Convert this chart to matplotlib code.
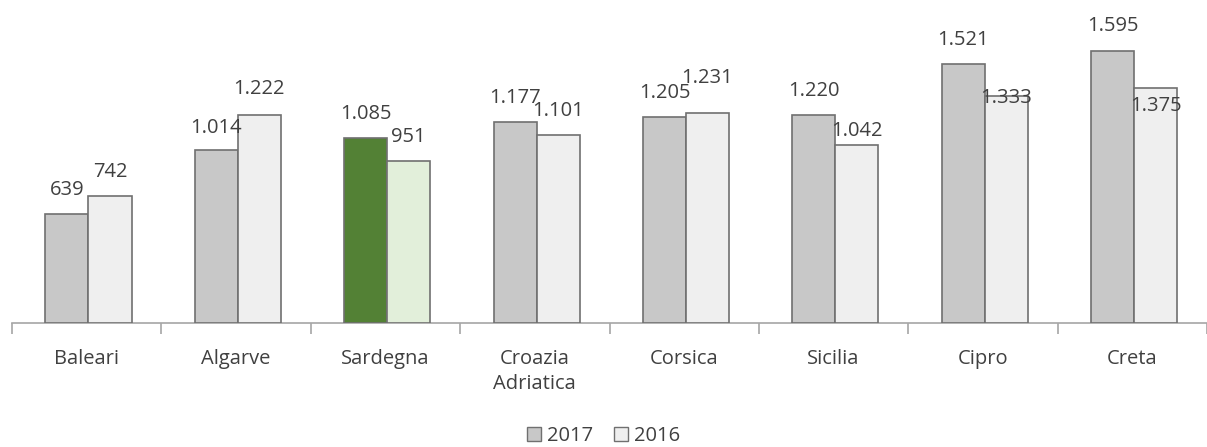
import matplotlib
matplotlib.use("Agg")
import matplotlib.pyplot as plt
import numpy as np
from matplotlib.patches import Patch

categories = ["Baleari", "Algarve", "Sardegna", "Croazia\nAdriatica", "Corsica", "Sicilia", "Cipro", "Creta"]
values_2017 = [639, 1014, 1085, 1177, 1205, 1220, 1521, 1595]
values_2016 = [742, 1222, 951, 1101, 1231, 1042, 1333, 1375]
labels_2017 = ["639", "1.014", "1.085", "1.177", "1.205", "1.220", "1.521", "1.595"]
labels_2016 = ["742", "1.222", "951", "1.101", "1.231", "1.042", "1.333", "1.375"]
series_names = ["2017", "2016"]

# label vertical offsets (pixels above bar top, to label center) as placed in the original
off_2017 = [24, 22, 24, 24, 24, 24, 24, 25]
off_2016 = [24, 26, 24, 24, 35, 14, -2, -18]

plt.rcParams['font.family'] = ['Open Sans', 'DejaVu Sans']
txt = "#404040"
fs = 14.5

fig = plt.figure(figsize=(12.07, 4.47), dpi=100)
ax = fig.add_axes([12/1207, 1 - 323/447, 1195/1207, 313/447])

x = np.arange(len(categories))
w = 0.288
c17 = ["#c8c8c8"] * len(categories)
c16 = ["#efefef"] * len(categories)
c17[2] = "#538135"
c16[2] = "#e2efda"
b1 = ax.bar(x - w/2 + 0.012, values_2017, w, color=c17, edgecolor="#707070", linewidth=1.2, zorder=3)
b2 = ax.bar(x + w/2 + 0.012, values_2016, w, color=c16, edgecolor="#707070", linewidth=1.2, zorder=3)

for i in range(len(categories)):
    ax.annotate(labels_2017[i], (x[i] - w/2 + 0.012, values_2017[i]), xytext=(0, off_2017[i]),
                textcoords="offset pixels", ha="center", va="center", fontsize=fs, color=txt, zorder=5)
    ax.annotate(labels_2016[i], (x[i] + w/2 + 0.012, values_2016[i]), xytext=(0, off_2016[i]),
                textcoords="offset pixels", ha="center", va="center", fontsize=fs, color=txt, zorder=5)

ax.set_xlim(-0.5, len(categories) - 0.5)
ax.set_ylim(0, 313 / 0.1706)
for s in ["top", "right", "left"]:
    ax.spines[s].set_visible(False)
ax.spines["bottom"].set_color("#a6a6a6")
ax.spines["bottom"].set_linewidth(1.2)
ax.set_yticks([])
ax.set_xticks(np.arange(-0.5, len(categories) + 0.5, 1.0), minor=False)
ax.set_xticklabels([])
ax.tick_params(axis="x", which="major", length=8, color="#a6a6a6", width=1.2)
ax.set_xticks(x, minor=True)
ax.set_xticklabels(categories, minor=True, fontsize=fs, color=txt, linespacing=1.3)
ax.tick_params(axis="x", which="minor", length=0, pad=19)

handles = [Patch(facecolor="#c8c8c8", edgecolor="#707070"), Patch(facecolor="#efefef", edgecolor="#707070")]
fig.legend(handles, series_names, loc="center", bbox_to_anchor=(0.5, 1 - 436/447), ncol=2,
           frameon=False, fontsize=fs, handlelength=0.7, handleheight=0.7, handletextpad=0.3,
           columnspacing=1.0, labelcolor=txt)

fig.savefig("out.png", dpi=100)
